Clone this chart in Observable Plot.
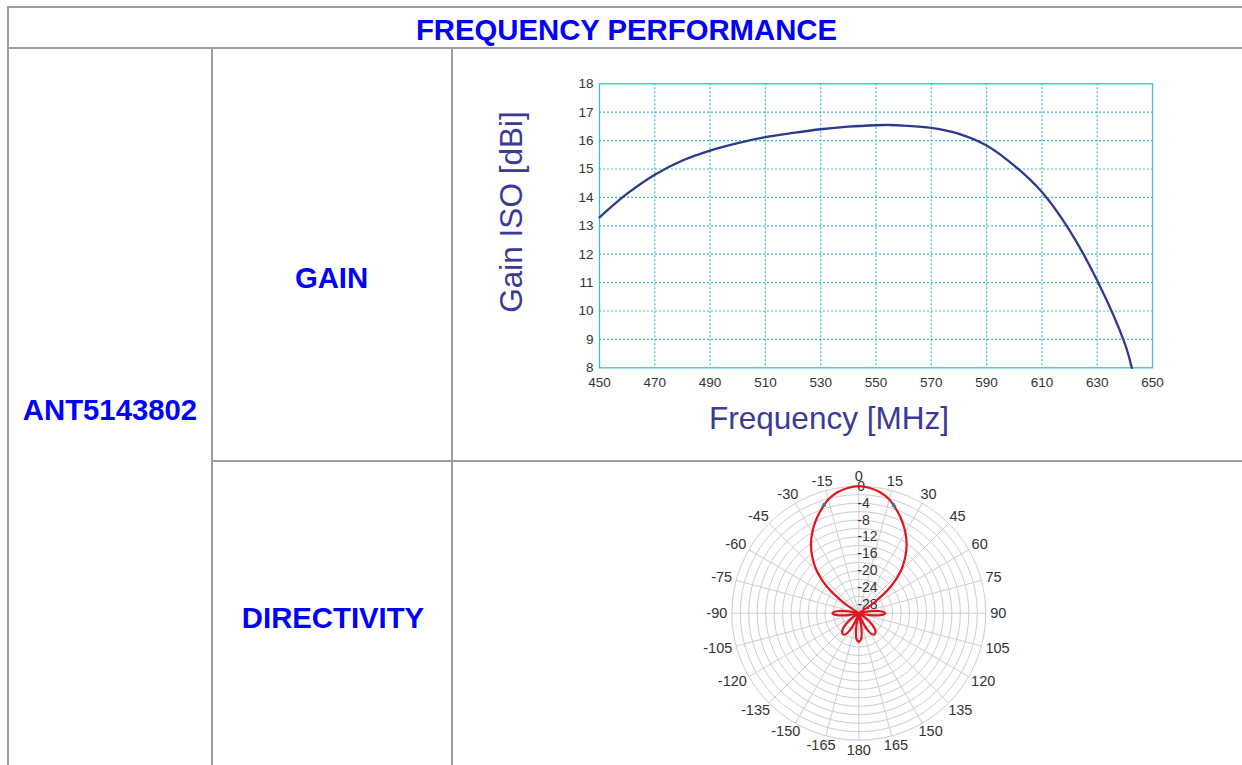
<!DOCTYPE html>
<html><head><meta charset="utf-8">
<script src="https://cdn.jsdelivr.net/npm/d3@7"></script>
<script src="https://cdn.jsdelivr.net/npm/@observablehq/plot@0.6"></script>
<style>
html,body{margin:0;padding:0;background:#fff;}
body{width:1242px;height:765px;overflow:hidden;position:relative;font-family:"Liberation Sans",Arial,sans-serif;}
.ln{position:absolute;background:#9d9d9d;}
.lbl{position:absolute;color:#0000ff;font-weight:bold;font-size:29.3px;transform:translate(-50%,-50%);white-space:nowrap;line-height:1;}
.ax{position:absolute;color:#3a3a98;font-size:31.5px;white-space:nowrap;line-height:1;}
#gain{position:absolute;left:460px;top:60px;}
#polar{position:absolute;left:680px;top:462px;}
</style></head><body>
<div class="ln" style="left:7px;top:6px;width:1250px;height:2px"></div>
<div class="ln" style="left:7px;top:47px;width:1250px;height:2px"></div>
<div class="ln" style="left:7px;top:6px;width:2px;height:780px"></div>
<div class="ln" style="left:211px;top:47px;width:2px;height:740px"></div>
<div class="ln" style="left:451px;top:47px;width:2px;height:740px"></div>
<div class="ln" style="left:211px;top:460px;width:1050px;height:2px"></div>
<div class="lbl" style="left:626.5px;top:30px">FREQUENCY PERFORMANCE</div>
<div class="lbl" style="left:331.5px;top:278px">GAIN</div>
<div class="lbl" style="left:110px;top:410px">ANT5143802</div>
<div class="lbl" style="left:333px;top:618px">DIRECTIVITY</div>
<div class="ax" style="left:512px;top:212px;transform:translate(-50%,-50%) rotate(-90deg)">Gain ISO [dBi]</div>
<div class="ax" style="left:829px;top:419px;transform:translate(-50%,-50%)">Frequency [MHz]</div>
<div id="gain"></div>
<div id="polar"></div>
<script>
// ---- Gain vs frequency ----
const freqMHz = [450,460,470,480,490,500,510,520,530,540,550,555,560,570,580,590,600,610,620,630,640,642.5];
const gainDBi = [13.3,14.13,14.8,15.3,15.65,15.91,16.12,16.27,16.4,16.49,16.54,16.55,16.53,16.45,16.24,15.83,15.12,14.19,12.84,11.07,8.85,8.0];
const freqTicks = [450,470,490,510,530,550,570,590,610,630,650];
const gainTicks = [8,9,10,11,12,13,14,15,16,17,18];

// ---- Directivity pattern (angle in degrees, level in dB) ----
const patternAngle = [-180,-175,-170,-165,-160,-155,-150,-145,-140,-135,-130,-125,-120,-115,-110,-105,-100,-95,-90,-85,-80,-75,-70,-65,-60,-55,-50,-45,-40,-35,-30,-25,-20,-15,-10,-5,0,5,10,15,20,25,30,35,40,45,50,55,60,65,70,75,80,85,90,95,100,105,110,115,120,125,130,135,140,145,150,155,160,165,170,175,180];
const patternDB = [-23.2,-23.8,-26.5,-30,-29.5,-26.5,-24.6,-23.8,-23.9,-24.6,-26,-28,-30,-30,-30,-30,-27.5,-24.8,-23.8,-24.8,-27.5,-30,-30,-30,-30,-25.5,-20,-16,-13,-10.3,-8,-5.9,-4,-2.2,-1,-0.3,0,-0.3,-1,-2.2,-4,-5.9,-8,-10.3,-13,-16,-20,-25.5,-30,-30,-30,-30,-27.5,-24.8,-23.8,-24.8,-27.5,-30,-30,-30,-30,-28,-26,-24.6,-23.9,-23.8,-24.6,-26.5,-29.5,-30,-26.5,-23.8,-23.2];
const angleLabels = [0,15,30,45,60,75,90,105,120,135,150,165,180,-165,-150,-135,-120,-105,-90,-75,-60,-45,-30,-15];
const ringLabels = [0,-4,-8,-12,-16,-20,-24,-28];
const ringLevels = [0,-2,-4,-6,-8,-10,-12,-14,-16,-18,-20,-22,-24,-26,-28];
const beamAngle = [-18,18];
const beamDB = [-3.2,-3.2];
const floorDB = -30;

const gainRows = freqMHz.map((f,i)=>({f, g: gainDBi[i]}));
const gridColor = "#3dbfc0";
const gainPlot = Plot.plot({
  width: 720, height: 340,
  marginLeft: 139, marginRight: 28, marginTop: 23.3, marginBottom: 32.7,
  style: {fontFamily: "Liberation Sans, Arial, sans-serif", fontSize: "13.5px", color: "#333", background: "transparent", overflow: "visible"},
  x: {domain: [450,650], ticks: freqTicks, tickFormat: d=>String(d), label: null, tickSize: 0, tickPadding: 10},
  y: {domain: [8,18], ticks: gainTicks, tickFormat: d=>String(d), label: null, tickSize: 0, tickPadding: 6},
  marks: [
    Plot.ruleX(freqTicks.slice(1,-1), {stroke: gridColor, strokeDasharray: "2,2", strokeWidth: 1.2}),
    Plot.ruleY(gainTicks.slice(1,-1), {stroke: gridColor, strokeDasharray: "2,2", strokeWidth: 1.2}),
    Plot.frame({stroke: gridColor, strokeWidth: 1.3}),
    Plot.line(gainRows, {x: "f", y: "g", curve: "catmull-rom", stroke: "#2c3a8e", strokeWidth: 2.3})
  ]
});
document.getElementById("gain").appendChild(gainPlot);

// ---- Polar plot ----
const cx = 178.3, cy = 150.7, R = 127;
const rad = a => a*Math.PI/180;
const toR = db => Math.max(0, db - floorDB);
const patRows = patternAngle.map((a,i)=>({x: toR(patternDB[i])*Math.sin(rad(a)), y: toR(patternDB[i])*Math.cos(rad(a))}));
const beamRows = beamAngle.map((a,i)=>({x: toR(beamDB[i])*Math.sin(rad(a)), y: toR(beamDB[i])*Math.cos(rad(a))}));
// angle labels: placed just outside the outer ring, pushed out by half their size
const labFont = 14.5, k = 30 / R, r0 = 131.5;
const labW = s => labFont * (0.556 * s.replace("-", "").length + (s.startsWith("-") ? 0.333 : 0));
const labH = labFont * 0.72;
const labRows = angleLabels.map(a => {
  const s = String(a), t = rad(a);
  return {s, x: (r0 * Math.sin(t) + labW(s) / 2 * Math.sin(t)) * k,
             y: (r0 * Math.cos(t) + labH / 2 * Math.cos(t)) * k};
});
const polarPlot = Plot.plot({
  width: 360, height: 303, margin: 0,
  style: {fontFamily: "Liberation Sans, Arial, sans-serif", fontSize: "14px", color: "#333", background: "transparent", overflow: "visible"},
  x: {type: "linear", domain: [-30,30], range: [cx-R, cx+R], axis: null},
  y: {type: "linear", domain: [-30,30], range: [cy+R, cy-R], axis: null},
  r: {type: "linear", domain: [0,30], range: [0,R]},
  marks: [
    Plot.link(angleLabels, {x1: d=>0, y1: d=>0, x2: a=>30*Math.sin(rad(a)), y2: a=>30*Math.cos(rad(a)), stroke: "#cdcdcd", strokeWidth: 1}),
    Plot.dot(ringLevels, {x: d=>0, y: d=>0, r: d=>d - floorDB, stroke: "#cdcdcd", fill: "none", strokeWidth: 1}),
    Plot.text(ringLabels, {x: d=>0, y: d=>d - floorDB, text: d=>String(d), textAnchor: "start", dx: -1.5, fill: "#333", fontSize: 14}),
    Plot.text(labRows, {x: "x", y: "y", text: "s", fill: "#333", fontSize: labFont}),
    Plot.line(patRows, {x: "x", y: "y", curve: "catmull-rom", stroke: "#e3141c", strokeWidth: 2.2}),
    Plot.dot(beamRows, {x: "x", y: "y", symbol: "triangle", r: 2, fill: "#2a78c0", stroke: "none"})
  ]
});
document.getElementById("polar").appendChild(polarPlot);
</script>
</body></html>
